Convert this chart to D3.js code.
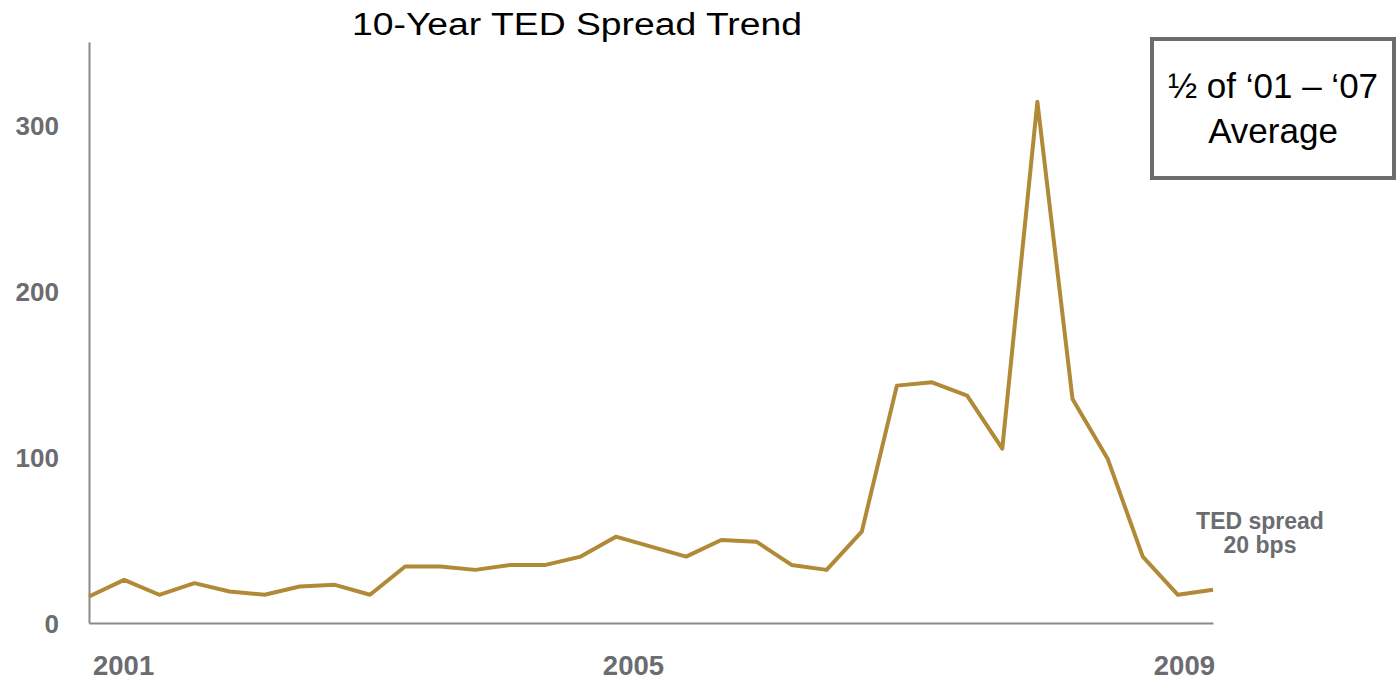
<!DOCTYPE html>
<html>
<head>
<meta charset="utf-8">
<script src="https://cdn.jsdelivr.net/npm/d3@7"></script>
<style>
  html, body { margin: 0; padding: 0; background: #ffffff; }
  svg { display: block; font-family: "Liberation Sans", Arial, sans-serif; }
</style>
</head>
<body>
<svg id="chart" width="1396" height="681"></svg>
<script>
// ---- data ----
const quarters = [
  "2001 Q1","2001 Q2","2001 Q3","2001 Q4",
  "2002 Q1","2002 Q2","2002 Q3","2002 Q4",
  "2003 Q1","2003 Q2","2003 Q3","2003 Q4",
  "2004 Q1","2004 Q2","2004 Q3","2004 Q4",
  "2005 Q1","2005 Q2","2005 Q3","2005 Q4",
  "2006 Q1","2006 Q2","2006 Q3","2006 Q4",
  "2007 Q1","2007 Q2","2007 Q3","2007 Q4",
  "2008 Q1","2008 Q2","2008 Q3","2008 Q4",
  "2009 Q1"
];
const tedSpread = [
  16, 26, 17, 24, 19, 17, 22, 23, 17, 34, 34, 32, 35, 35, 40, 52,
  46, 40, 50, 49, 35, 32, 55, 143, 145, 137, 105, 314, 135, 99, 40, 17,
  20
];
const yTicks = [0, 100, 200, 300];
const yearLabels = ["2001", "2005", "2009"];
const yearLabelAt = ["2001 Q1", "2004 Q4", "2009 Q1"];
const titleText = "10-Year TED Spread Trend";
const boxLines = ["\u00BD of \u201801 \u2013 \u201807", "Average"];
const noteLines = ["TED spread", "20 bps"];

// ---- drawing ----
const svg = d3.select("#chart");
const gray = "#6b6c70";
const axisGray = "#8a8a8a";
const lineColor = "#B08A36";

const x = d3.scalePoint().domain(quarters).range([89, 1213]);
const y = d3.scaleLinear().domain([0, 350]).range([623, 42]);

// title
svg.append("text")
  .attr("x", 577).attr("y", 35)
  .attr("text-anchor", "middle")
  .attr("font-size", 31)
  .attr("textLength", 450)
  .attr("lengthAdjust", "spacingAndGlyphs")
  .attr("fill", "#000")
  .text(titleText);

// y axis
const yAxis = svg.append("g")
  .attr("transform", `translate(${x(quarters[0])},0)`)
  .call(d3.axisLeft(y).tickValues(yTicks).tickSize(0).tickSizeOuter(0).tickPadding(30));
yAxis.select(".domain").attr("stroke", axisGray).attr("stroke-width", 2);
yAxis.selectAll("text")
  .attr("font-family", "Liberation Sans, Arial, sans-serif")
  .attr("font-size", 26).attr("font-weight", "bold").attr("fill", gray)
  .attr("dy", "0.38em");

// x axis
const xAxis = svg.append("g")
  .attr("transform", `translate(0,${y(0)})`)
  .call(d3.axisBottom(x).tickValues([]).tickSizeOuter(0));
xAxis.select(".domain").attr("stroke", axisGray).attr("stroke-width", 2);

// year labels
const anchors = ["start", "middle", "end"];
const offsets = [4, 0, 2];
const xShift = [0, x.step() / 2, 0];
svg.append("g").selectAll("text")
  .data(yearLabels)
  .join("text")
  .attr("x", (d, i) => x(yearLabelAt[i]) + offsets[i] + xShift[i])
  .attr("y", 675)
  .attr("text-anchor", (d, i) => anchors[i])
  .attr("font-size", 27.5).attr("font-weight", "bold").attr("fill", gray)
  .text(d => d);

// line
const line = d3.line()
  .x((d, i) => x(quarters[i]))
  .y(d => y(d));
svg.append("path")
  .datum(tedSpread)
  .attr("d", line)
  .attr("fill", "none")
  .attr("stroke", lineColor)
  .attr("stroke-width", 4)
  .attr("stroke-linejoin", "round");

// note label
svg.append("g").selectAll("text")
  .data(noteLines)
  .join("text")
  .attr("x", 1260)
  .attr("y", (d, i) => 529 + i * 24)
  .attr("text-anchor", "middle")
  .attr("font-size", 23).attr("font-weight", "bold").attr("fill", gray)
  .text(d => d);

// box annotation
const box = svg.append("g");
box.append("rect")
  .attr("x", 1152).attr("y", 39).attr("width", 242).attr("height", 139)
  .attr("fill", "#fff").attr("stroke", "#6b6c70").attr("stroke-width", 4);
box.selectAll("text")
  .data(boxLines)
  .join("text")
  .attr("x", 1273)
  .attr("y", (d, i) => 98 + i * 45)
  .attr("text-anchor", "middle")
  .attr("font-size", 35).attr("fill", "#000")
  .text(d => d);
</script>
</body>
</html>
